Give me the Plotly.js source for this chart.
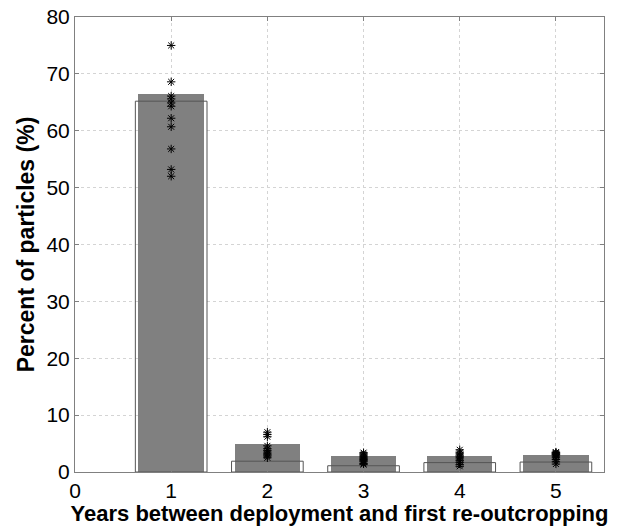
<!DOCTYPE html>
<html>
<head>
<meta charset="utf-8">
<script src="https://cdn.plot.ly/plotly-3.0.1.min.js"></script>
<style>html,body{margin:0;padding:0;background:#fff;}#chart{width:632px;height:526px;}</style>
</head>
<body>
<div id="chart"></div>
<script>
// Data
const years = [1, 2, 3, 4, 5];
const meanPercent = [66.4, 5.0, 2.8, 2.9, 3.0];        // gray filled bars
const simPercent = [65.2, 1.9, 1.1, 1.65, 1.75];       // open outlined bars
const samples1 = [75.0, 68.6, 66.1, 65.6, 64.9, 64.3, 62.2, 60.7, 56.8, 53.2, 52.0];
const samples2 = [7.0, 6.6, 6.2, 4.6, 4.1, 3.8, 3.5, 3.2, 3.0, 2.8, 2.5];
const samples3 = [3.4, 3.2, 3.0, 2.8, 2.6, 2.4, 2.2, 2.0, 1.8, 1.5, 1.3];
const samples4 = [3.9, 3.5, 3.3, 3.0, 2.8, 2.6, 2.3, 2.0, 1.7, 1.3, 1.0];
const samples5 = [3.5, 3.4, 3.3, 3.2, 3.1, 3.0, 2.8, 2.5, 2.2, 1.8, 1.4];
const xTicks = [0, 1, 2, 3, 4, 5];
const yTicks = [0, 10, 20, 30, 40, 50, 60, 70, 80];

const sampleSets = [samples1, samples2, samples3, samples4, samples5];
const sx = [], sy = [];
sampleSets.forEach((arr, i) => arr.forEach(v => { sx.push(years[i]); sy.push(v); }));

const traces = [
  {type: 'bar', x: years, y: meanPercent, width: 0.68,
   marker: {color: '#808080', line: {width: 0}}, hoverinfo: 'skip'},
  {type: 'bar', x: years, y: simPercent, width: 0.745,
   marker: {color: 'rgba(0,0,0,0)', line: {color: '#555555', width: 1}}, hoverinfo: 'skip'},
  {type: 'scatter', mode: 'markers', x: sx, y: sy,
   marker: {symbol: 'asterisk-open', size: 7, color: '#000', line: {color: '#000', width: 1}}}
];

const fam = '"Liberation Sans", Arial, sans-serif';
const layout = {
  width: 632, height: 526,
  margin: {l: 75, r: 28, t: 17, b: 54, pad: 0},
  paper_bgcolor: '#fff', plot_bgcolor: '#fff',
  barmode: 'overlay', bargap: 0,
  showlegend: false,
  font: {family: fam, color: '#000'},
  xaxis: {
    range: [0, 5.5], tickvals: xTicks, ticktext: xTicks.map(String),
    showgrid: true, gridcolor: '#d4d4d4', griddash: 'dot', gridwidth: 1,
    zeroline: false, showline: true, linecolor: '#808080', linewidth: 1, mirror: 'ticks',
    ticks: 'inside', ticklen: 4, tickcolor: '#808080',
    tickfont: {size: 21, family: fam, color: '#000'},
    title: {text: '<b>Years between deployment and first re-outcropping</b>', font: {size: 22, family: fam, color: '#000'}, standoff: 0}
  },
  yaxis: {
    range: [0, 80], tickvals: yTicks,
    showgrid: true, gridcolor: '#d4d4d4', griddash: 'dot', gridwidth: 1,
    zeroline: false, showline: true, linecolor: '#808080', linewidth: 1, mirror: 'ticks',
    ticks: 'inside', ticklen: 4, tickcolor: '#808080',
    tickfont: {size: 21, family: fam, color: '#000'},
    title: {text: '<b>Percent of particles (%)</b>', font: {size: 23, family: fam, color: '#000'}, standoff: 5}
  }
};

Plotly.newPlot('chart', traces, layout, {staticPlot: true, displayModeBar: false});
</script>
</body>
</html>
